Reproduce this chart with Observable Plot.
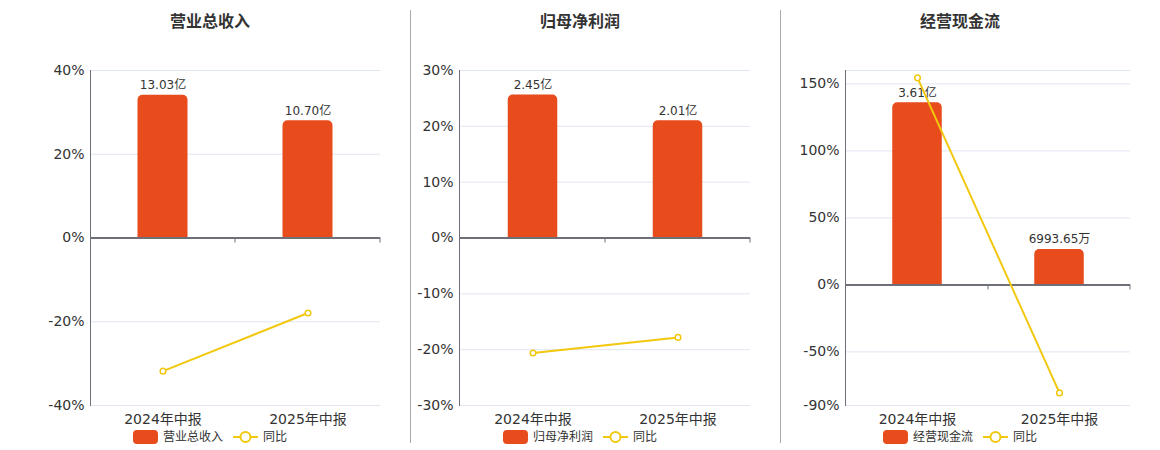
<!DOCTYPE html>
<html>
<head>
<meta charset="utf-8">
<script src="https://cdn.jsdelivr.net/npm/d3@7"></script>
<script src="https://cdn.jsdelivr.net/npm/@observablehq/plot@0.6"></script>
<style>
  html, body { margin: 0; padding: 0; background: #fff; }
  #root { position: relative; width: 1160px; height: 450px; overflow: hidden;
          font-family: "DejaVu Sans", "Noto Sans CJK SC", sans-serif; color: #333; }
  .title { position: absolute; top: 12px; font-size: 16px; font-weight: bold; color: #333;
           transform: translateX(-50%); white-space: nowrap; line-height: 20px; }
  .legend { position: absolute; top: 429px; transform: translateX(-50%); display: flex;
            align-items: center; font-size: 12px; color: #333; white-space: nowrap; line-height: 16px; }
  .legend .sw { width: 25px; height: 14px; border-radius: 4px; background: #E84B1C; margin-right: 5px; }
  .legend svg { margin-left: 10px; margin-right: 5px; }
  .divider { position: absolute; top: 10px; height: 433px; width: 1px; background: #aaa; }
  .panel { position: absolute; top: 0; }
</style>
</head>
<body>
<div id="root"></div>
<script>
// ---- data ----
const categories = ["2024年中报", "2025年中报"];
const panelTitles = ["营业总收入", "归母净利润", "经营现金流"];

const revenueValues = [13.03, 10.70];          // 亿
const revenueLabels = ["13.03亿", "10.70亿"];
const revenueYoy = [-31.8, -17.9];              // %

const profitValues = [2.45, 2.01];              // 亿
const profitLabels = ["2.45亿", "2.01亿"];
const profitYoy = [-20.6, -17.8];

const cashValues = [3.61, 0.699365];            // 亿
const cashLabels = ["3.61亿", "6993.65万"];
const cashYoy = [154.5, -80.6];

const revenueTicks = [-40, -20, 0, 20, 40];
const profitTicks = [-30, -20, -10, 0, 10, 20, 30];
const cashTicks = [-90, -50, 0, 50, 100, 150];

const revenueDomain = [-40, 40];
const profitDomain = [-30, 30];
const cashDomain = [-90, 160];

// hidden secondary (bar) axis maximum, aligned with the top of the % axis
const barAxisMax = [15.3, 2.87, 4.25];

const barColor = "#E84B1C";
const lineColor = "#F2C80F";

// ---- layout ----
const panels = [
  {values: revenueValues, labels: revenueLabels, yoy: revenueYoy, ticks: revenueTicks, grid: revenueTicks, domain: revenueDomain,
   left: 0, width: 400, marginLeft: 90, marginRight: 20, center: 210},
  {values: profitValues, labels: profitLabels, yoy: profitYoy, ticks: profitTicks, grid: profitTicks, domain: profitDomain,
   left: 411, width: 360, marginLeft: 48, marginRight: 21, center: 580},
  {values: cashValues, labels: cashLabels, yoy: cashYoy, ticks: cashTicks, grid: [...cashTicks, 160], domain: cashDomain,
   left: 781, width: 379, marginLeft: 64, marginRight: 30, center: 960}
];

const root = document.getElementById("root");

[410, 780].forEach(x => {
  const d = document.createElement("div");
  d.className = "divider";
  d.style.left = x + "px";
  root.appendChild(d);
});

panels.forEach((p, i) => {
  const data = categories.map((c, j) => ({
    cat: c,
    bar: p.values[j] / barAxisMax[i] * p.domain[1],
    label: p.labels[j],
    yoy: p.yoy[j]
  }));
  const plotW = p.width - p.marginLeft - p.marginRight;
  const inset = (plotW / categories.length - 50) / 2;

  const edgeTicks = (index, scales) => {
    const g = d3.create("svg:g");
    const bw = scales.x.bandwidth ? scales.x.bandwidth() : plotW / categories.length;
    const y0 = scales.y(0);
    categories.forEach(c => {
      const x = scales.x(c) + bw;
      g.append("line").attr("x1", x).attr("x2", x).attr("y1", y0).attr("y2", y0 + 5)
        .attr("stroke", "#6E7079").attr("stroke-width", 1);
    });
    return g.node();
  };

  const chart = Plot.plot({
    width: p.width,
    height: 445,
    marginLeft: p.marginLeft,
    marginRight: p.marginRight,
    marginTop: 70,
    marginBottom: 40,
    style: {fontFamily: '"DejaVu Sans", "Noto Sans CJK SC", sans-serif', background: "transparent", color: "#333"},
    x: {type: "band", domain: categories, padding: 0},
    y: {domain: p.domain},
    marks: [
      Plot.gridY(p.grid, {stroke: "#E0E6F1", strokeOpacity: 1}),
      Plot.axisY(p.ticks, {tickFormat: d => d + "%", tickSize: 0, tickPadding: 6, fontSize: 14, fill: "#333", label: null}),
      Plot.axisX({tickSize: 0, tickPadding: 9, fontSize: 14, fill: "#333", label: null}),
      Plot.frame({anchor: "left", stroke: "#6E7079"}),
      Plot.barY(data, {x: "cat", y: "bar", fill: barColor, insetLeft: inset, insetRight: inset, ry1: 5}),
      Plot.ruleY([0], {stroke: "#6E7079", strokeWidth: 2}),
      edgeTicks,
      Plot.text(data, {x: "cat", y: "bar", text: "label", dy: -10, fontSize: 12, fill: "#333"}),
      Plot.line(data, {x: "cat", y: "yoy", stroke: lineColor, strokeWidth: 2}),
      Plot.dot(data, {x: "cat", y: "yoy", r: 2.8, fill: "#fff", stroke: lineColor, strokeWidth: 1.5})
    ]
  });
  chart.classList.add("panel");
  chart.style.left = p.left + "px";
  root.appendChild(chart);

  const t = document.createElement("div");
  t.className = "title";
  t.style.left = p.center + "px";
  t.textContent = panelTitles[i];
  root.appendChild(t);

  const lg = document.createElement("div");
  lg.className = "legend";
  lg.style.left = p.center + "px";
  lg.innerHTML = `<div class="sw"></div><span>${panelTitles[i]}</span>` +
    `<svg width="25" height="14"><line x1="0" x2="25" y1="7" y2="7" stroke="${lineColor}" stroke-width="2"/>` +
    `<circle cx="12.5" cy="7" r="5" fill="#fff" stroke="${lineColor}" stroke-width="2"/></svg><span>同比</span>`;
  root.appendChild(lg);
});
</script>
</body>
</html>
